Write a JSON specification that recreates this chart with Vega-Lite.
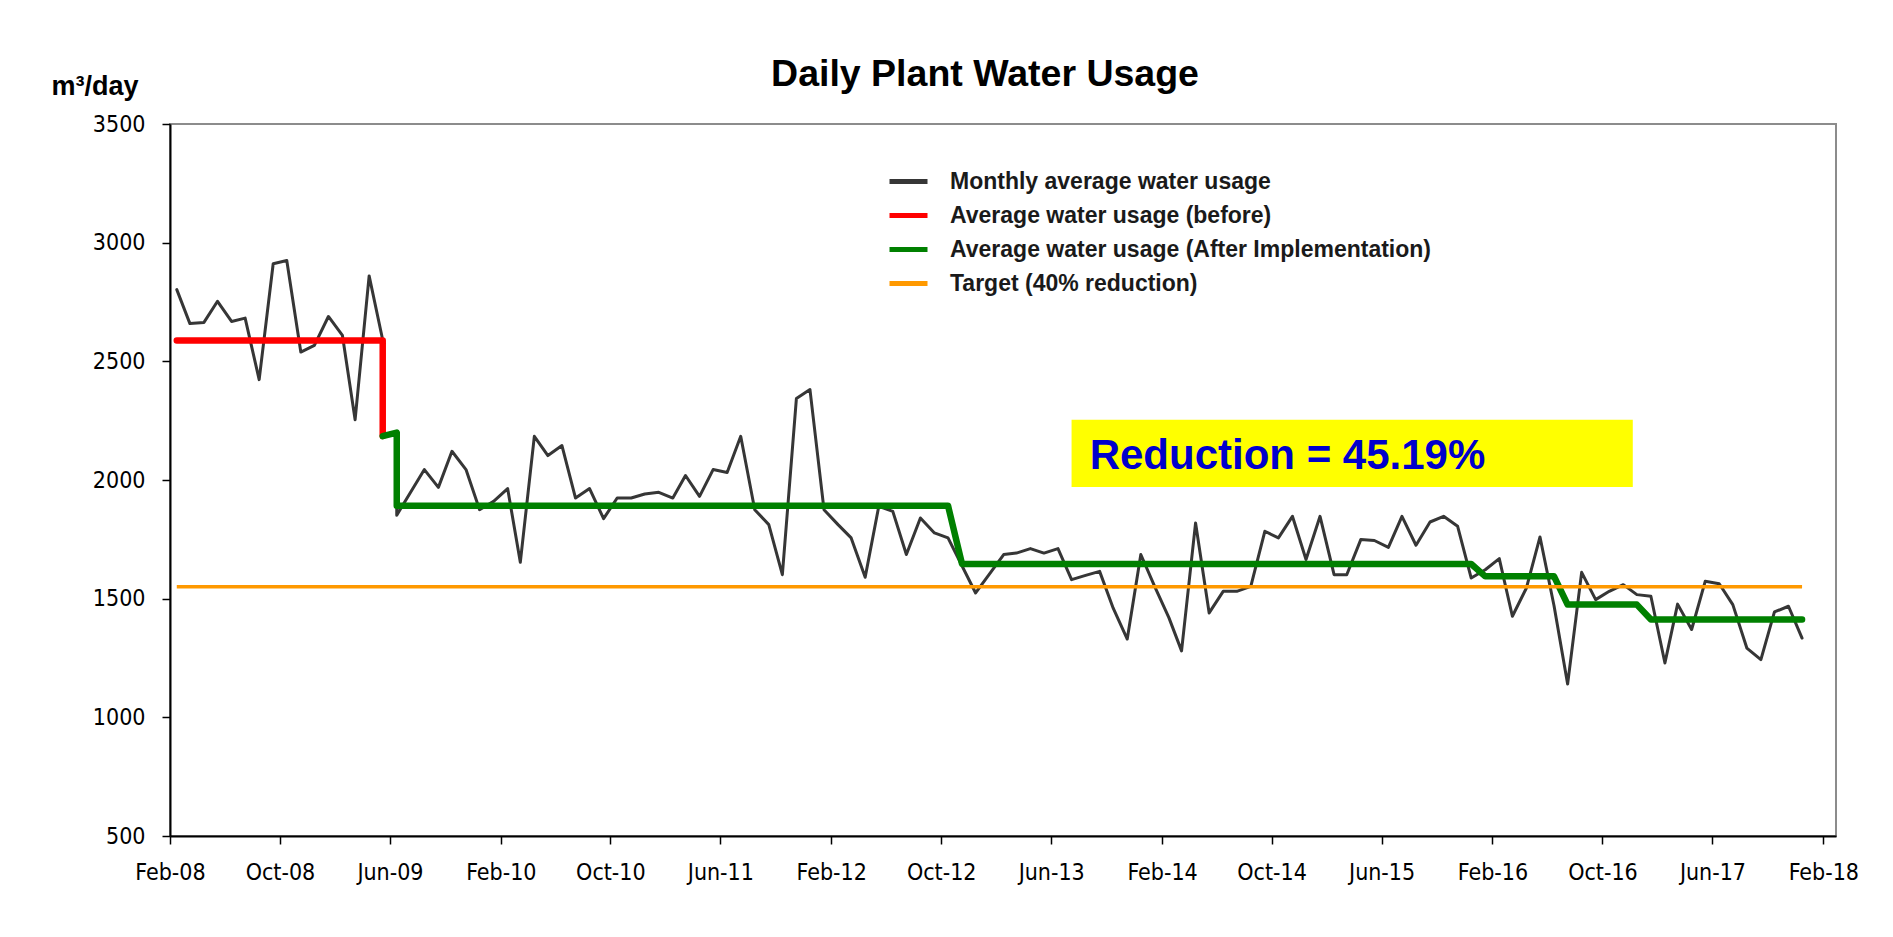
{
  "$schema": "https://vega.github.io/schema/vega-lite/v6.json",
  "width": 1666,
  "height": 712,
  "autosize": {"type": "none"},
  "padding": {"left": 170, "top": 124, "right": 57, "bottom": 101},
  "background": "white",
  "title": {
    "text": "Daily Plant Water Usage",
    "font": "Liberation Sans",
    "fontSize": 37.5,
    "fontWeight": "bold",
    "color": "black",
    "anchor": "middle",
    "frame": "group",
    "dx": -18,
    "dy": 59,
    "offset": 8,
    "baseline": "alphabetic"
  },
  "config": {
    "view": {"stroke": "#8c8c8c", "strokeWidth": 2},
    "font": "Liberation Sans",
    "legend": {
      "symbolType": "stroke",
      "symbolSize": 1444,
      "symbolStrokeWidth": 5,
      "labelFont": "Liberation Sans",
      "labelFontSize": 23,
      "labelFontWeight": "bold",
      "labelColor": "#1a1a1a",
      "labelOffset": 20,
      "labelLimit": 0,
      "rowPadding": -1,
      "padding": 0
    }
  },
  "datasets": {
    "monthly": [
      {"date": "2008-02-16", "value": 2802, "i": 0},
      {"date": "2008-03-16", "value": 2659, "i": 1},
      {"date": "2008-04-16", "value": 2664, "i": 2},
      {"date": "2008-05-16", "value": 2753, "i": 3},
      {"date": "2008-06-16", "value": 2668, "i": 4},
      {"date": "2008-07-16", "value": 2682, "i": 5},
      {"date": "2008-08-16", "value": 2423, "i": 6},
      {"date": "2008-09-16", "value": 2911, "i": 7},
      {"date": "2008-10-16", "value": 2925, "i": 8},
      {"date": "2008-11-16", "value": 2539, "i": 9},
      {"date": "2008-12-16", "value": 2567, "i": 10},
      {"date": "2009-01-16", "value": 2689, "i": 11},
      {"date": "2009-02-16", "value": 2609, "i": 12},
      {"date": "2009-03-16", "value": 2254, "i": 13},
      {"date": "2009-04-16", "value": 2860, "i": 14},
      {"date": "2009-05-16", "value": 2590, "i": 15},
      {"date": "2009-05-16", "value": 2180, "i": 16},
      {"date": "2009-06-16", "value": 2200, "i": 17},
      {"date": "2009-06-16", "value": 1852, "i": 18},
      {"date": "2009-08-16", "value": 2044, "i": 19},
      {"date": "2009-09-16", "value": 1969, "i": 20},
      {"date": "2009-10-16", "value": 2121, "i": 21},
      {"date": "2009-11-16", "value": 2044, "i": 22},
      {"date": "2009-12-16", "value": 1875, "i": 23},
      {"date": "2010-01-16", "value": 1910, "i": 24},
      {"date": "2010-02-16", "value": 1964, "i": 25},
      {"date": "2010-03-16", "value": 1653, "i": 26},
      {"date": "2010-04-16", "value": 2184, "i": 27},
      {"date": "2010-05-16", "value": 2103, "i": 28},
      {"date": "2010-06-16", "value": 2145, "i": 29},
      {"date": "2010-07-16", "value": 1924, "i": 30},
      {"date": "2010-08-16", "value": 1964, "i": 31},
      {"date": "2010-09-16", "value": 1837, "i": 32},
      {"date": "2010-10-16", "value": 1924, "i": 33},
      {"date": "2010-11-16", "value": 1924, "i": 34},
      {"date": "2010-12-16", "value": 1941, "i": 35},
      {"date": "2011-01-16", "value": 1948, "i": 36},
      {"date": "2011-02-16", "value": 1924, "i": 37},
      {"date": "2011-03-16", "value": 2019, "i": 38},
      {"date": "2011-04-16", "value": 1931, "i": 39},
      {"date": "2011-05-16", "value": 2044, "i": 40},
      {"date": "2011-06-16", "value": 2032, "i": 41},
      {"date": "2011-07-16", "value": 2184, "i": 42},
      {"date": "2011-08-16", "value": 1875, "i": 43},
      {"date": "2011-09-16", "value": 1812, "i": 44},
      {"date": "2011-10-16", "value": 1601, "i": 45},
      {"date": "2011-11-16", "value": 2343, "i": 46},
      {"date": "2011-12-16", "value": 2381, "i": 47},
      {"date": "2012-01-16", "value": 1875, "i": 48},
      {"date": "2012-02-16", "value": 1812, "i": 49},
      {"date": "2012-03-16", "value": 1756, "i": 50},
      {"date": "2012-04-16", "value": 1590, "i": 51},
      {"date": "2012-05-16", "value": 1889, "i": 52},
      {"date": "2012-06-16", "value": 1868, "i": 53},
      {"date": "2012-07-16", "value": 1686, "i": 54},
      {"date": "2012-08-16", "value": 1840, "i": 55},
      {"date": "2012-09-16", "value": 1777, "i": 56},
      {"date": "2012-10-16", "value": 1756, "i": 57},
      {"date": "2012-12-16", "value": 1524, "i": 58},
      {"date": "2013-02-16", "value": 1686, "i": 59},
      {"date": "2013-03-16", "value": 1692, "i": 60},
      {"date": "2013-04-16", "value": 1711, "i": 61},
      {"date": "2013-05-16", "value": 1692, "i": 62},
      {"date": "2013-06-16", "value": 1711, "i": 63},
      {"date": "2013-07-16", "value": 1580, "i": 64},
      {"date": "2013-08-16", "value": 1598, "i": 65},
      {"date": "2013-09-16", "value": 1615, "i": 66},
      {"date": "2013-10-16", "value": 1460, "i": 67},
      {"date": "2013-11-16", "value": 1330, "i": 68},
      {"date": "2013-12-16", "value": 1686, "i": 69},
      {"date": "2014-01-16", "value": 1550, "i": 70},
      {"date": "2014-02-16", "value": 1420, "i": 71},
      {"date": "2014-03-16", "value": 1280, "i": 72},
      {"date": "2014-04-16", "value": 1819, "i": 73},
      {"date": "2014-05-16", "value": 1440, "i": 74},
      {"date": "2014-06-16", "value": 1531, "i": 75},
      {"date": "2014-07-16", "value": 1531, "i": 76},
      {"date": "2014-08-16", "value": 1552, "i": 77},
      {"date": "2014-09-16", "value": 1784, "i": 78},
      {"date": "2014-10-16", "value": 1756, "i": 79},
      {"date": "2014-11-16", "value": 1847, "i": 80},
      {"date": "2014-12-16", "value": 1665, "i": 81},
      {"date": "2015-01-16", "value": 1847, "i": 82},
      {"date": "2015-02-16", "value": 1601, "i": 83},
      {"date": "2015-03-16", "value": 1601, "i": 84},
      {"date": "2015-04-16", "value": 1749, "i": 85},
      {"date": "2015-05-16", "value": 1745, "i": 86},
      {"date": "2015-06-16", "value": 1716, "i": 87},
      {"date": "2015-07-16", "value": 1847, "i": 88},
      {"date": "2015-08-16", "value": 1725, "i": 89},
      {"date": "2015-09-16", "value": 1823, "i": 90},
      {"date": "2015-10-16", "value": 1847, "i": 91},
      {"date": "2015-11-16", "value": 1805, "i": 92},
      {"date": "2015-12-16", "value": 1587, "i": 93},
      {"date": "2016-01-16", "value": 1622, "i": 94},
      {"date": "2016-02-16", "value": 1669, "i": 95},
      {"date": "2016-03-16", "value": 1426, "i": 96},
      {"date": "2016-04-16", "value": 1545, "i": 97},
      {"date": "2016-05-16", "value": 1760, "i": 98},
      {"date": "2016-06-16", "value": 1470, "i": 99},
      {"date": "2016-07-16", "value": 1140, "i": 100},
      {"date": "2016-08-16", "value": 1611, "i": 101},
      {"date": "2016-09-16", "value": 1496, "i": 102},
      {"date": "2016-10-16", "value": 1531, "i": 103},
      {"date": "2016-11-16", "value": 1559, "i": 104},
      {"date": "2016-12-16", "value": 1517, "i": 105},
      {"date": "2017-01-16", "value": 1510, "i": 106},
      {"date": "2017-02-16", "value": 1229, "i": 107},
      {"date": "2017-03-16", "value": 1477, "i": 108},
      {"date": "2017-04-16", "value": 1370, "i": 109},
      {"date": "2017-05-16", "value": 1573, "i": 110},
      {"date": "2017-06-16", "value": 1563, "i": 111},
      {"date": "2017-07-16", "value": 1475, "i": 112},
      {"date": "2017-08-16", "value": 1292, "i": 113},
      {"date": "2017-09-16", "value": 1243, "i": 114},
      {"date": "2017-10-16", "value": 1444, "i": 115},
      {"date": "2017-11-16", "value": 1468, "i": 116},
      {"date": "2017-12-16", "value": 1334, "i": 117}
    ],
    "before": [
      {"date": "2008-02-16", "value": 2588, "i": 0},
      {"date": "2009-05-16", "value": 2588, "i": 1},
      {"date": "2009-05-16", "value": 2185, "i": 2}
    ],
    "after": [
      {"date": "2009-05-16", "value": 2185, "i": 0},
      {"date": "2009-06-16", "value": 2200, "i": 1},
      {"date": "2009-06-16", "value": 1892, "i": 2},
      {"date": "2012-10-16", "value": 1892, "i": 3},
      {"date": "2012-11-16", "value": 1646, "i": 4},
      {"date": "2015-12-16", "value": 1646, "i": 5},
      {"date": "2016-01-16", "value": 1594, "i": 6},
      {"date": "2016-06-16", "value": 1594, "i": 7},
      {"date": "2016-07-16", "value": 1475, "i": 8},
      {"date": "2016-12-16", "value": 1475, "i": 9},
      {"date": "2017-01-16", "value": 1412, "i": 10},
      {"date": "2017-12-16", "value": 1412, "i": 11}
    ],
    "target": [
      {"date": "2008-02-16", "value": 1550, "i": 0},
      {"date": "2017-12-16", "value": 1550, "i": 1}
    ],
    "note": [
      {"start": "2013-07-16", "end": "2016-12-07", "top": 2254, "bottom": 1970, "date": "2013-08-25", "value": 2048, "label": "Reduction = 45.19%"}
    ]
  },
  "encoding": {
    "x": {
      "field": "date",
      "type": "temporal",
      "scale": {
        "type": "utc",
        "domain": [
          {"year": 2008, "month": "feb", "date": 1, "utc": true},
          {"year": 2018, "month": "mar", "date": 1, "utc": true}
        ]
      },
      "axis": {
        "title": null,
        "grid": false,
        "values": [
          {"year": 2008, "month": "feb", "date": 1, "utc": true},
          {"year": 2008, "month": "oct", "date": 1, "utc": true},
          {"year": 2009, "month": "jun", "date": 1, "utc": true},
          {"year": 2010, "month": "feb", "date": 1, "utc": true},
          {"year": 2010, "month": "oct", "date": 1, "utc": true},
          {"year": 2011, "month": "jun", "date": 1, "utc": true},
          {"year": 2012, "month": "feb", "date": 1, "utc": true},
          {"year": 2012, "month": "oct", "date": 1, "utc": true},
          {"year": 2013, "month": "jun", "date": 1, "utc": true},
          {"year": 2014, "month": "feb", "date": 1, "utc": true},
          {"year": 2014, "month": "oct", "date": 1, "utc": true},
          {"year": 2015, "month": "jun", "date": 1, "utc": true},
          {"year": 2016, "month": "feb", "date": 1, "utc": true},
          {"year": 2016, "month": "oct", "date": 1, "utc": true},
          {"year": 2017, "month": "jun", "date": 1, "utc": true},
          {"year": 2018, "month": "feb", "date": 1, "utc": true}
        ],
        "labelExpr": "utcFormat(datum.value, '%b-%y')",
        "labelFont": "DejaVu Sans Condensed",
        "labelFontSize": 23,
        "labelColor": "black",
        "labelPadding": 17,
        "labelFlush": false,
        "labelOverlap": false,
        "tickColor": "black",
        "tickSize": 8,
        "tickWidth": 1.5,
        "domainColor": "black",
        "domainWidth": 2
      }
    },
    "y": {
      "field": "value",
      "type": "quantitative",
      "scale": {"domain": [500, 3500], "nice": false, "zero": false},
      "axis": {
        "title": "m³/day",
        "titleAngle": 0,
        "titleX": -119,
        "titleY": -30,
        "titleAlign": "left",
        "titleBaseline": "alphabetic",
        "titleFont": "Liberation Sans",
        "titleFontSize": 27,
        "titleFontWeight": "bold",
        "titleColor": "black",
        "grid": false,
        "values": [500, 1000, 1500, 2000, 2500, 3000, 3500],
        "format": "d",
        "labelFont": "DejaVu Sans Condensed",
        "labelFontSize": 23,
        "labelColor": "black",
        "labelPadding": 17,
        "labelFlush": false,
        "tickColor": "black",
        "tickSize": 8,
        "tickWidth": 1.5,
        "domainColor": "black",
        "domainWidth": 2
      }
    }
  },
  "layer": [
    {
      "data": {"name": "note"},
      "mark": {"type": "rect", "color": "#ffff00"},
      "encoding": {
        "x": {"field": "start", "type": "temporal"},
        "x2": {"field": "end"},
        "y": {"field": "top", "type": "quantitative"},
        "y2": {"field": "bottom"}
      }
    },
    {
      "data": {"name": "note"},
      "mark": {"type": "text", "align": "left", "baseline": "alphabetic", "font": "Liberation Sans", "fontSize": 42, "fontWeight": "bold", "color": "#0000cc"},
      "encoding": {
        "text": {"field": "label"}
      }
    },
    {
      "data": {"name": "monthly"},
      "mark": {"type": "line", "strokeWidth": 3, "strokeJoin": "round", "strokeCap": "round"},
      "encoding": {
        "order": {"field": "i"},
        "color": {
          "datum": "Monthly average water usage",
          "type": "nominal",
          "scale": {
            "domain": ["Monthly average water usage", "Average water usage (before)", "Average water usage (After Implementation)", "Target (40% reduction)"],
            "range": ["#363636", "#ff0000", "#008000", "#ff9900"]
          },
          "legend": {"title": null, "orient": "none", "legendX": 717, "legendY": 36}
        }
      }
    },
    {
      "data": {"name": "before"},
      "mark": {"type": "line", "strokeWidth": 6.5, "strokeJoin": "round", "strokeCap": "round"},
      "encoding": {
        "order": {"field": "i"},
        "color": {"datum": "Average water usage (before)", "type": "nominal"}
      }
    },
    {
      "data": {"name": "after"},
      "mark": {"type": "line", "strokeWidth": 6.5, "strokeJoin": "round", "strokeCap": "round"},
      "encoding": {
        "order": {"field": "i"},
        "color": {"datum": "Average water usage (After Implementation)", "type": "nominal"}
      }
    },
    {
      "data": {"name": "target"},
      "mark": {"type": "line", "strokeWidth": 3.5, "strokeCap": "butt"},
      "encoding": {
        "order": {"field": "i"},
        "color": {"datum": "Target (40% reduction)", "type": "nominal"}
      }
    }
  ]
}
